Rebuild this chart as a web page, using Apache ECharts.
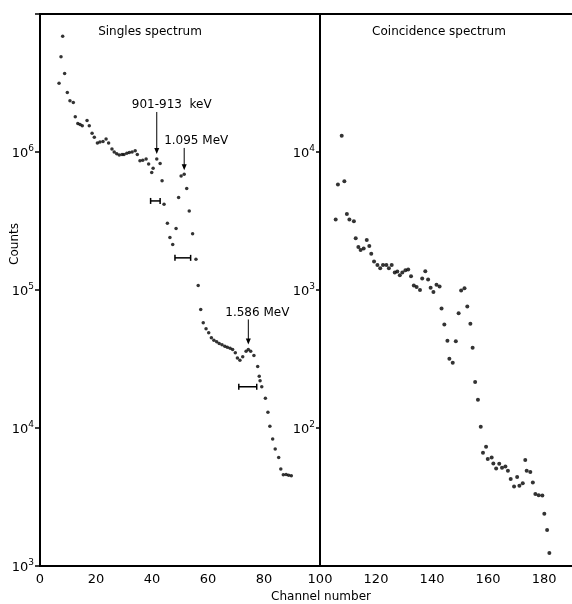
<!DOCTYPE html>
<html>
<head>
<meta charset="utf-8">
<title>Singles and coincidence spectra</title>
<script src="https://cdn.jsdelivr.net/npm/echarts/dist/echarts.min.js"></script>
<style>
    html, body { margin: 0; padding: 0; background: #fff; }
    #chart { width: 572px; height: 604px; }
</style>
</head>
<body>
<div id="chart"></div>
<script>
    // singles spectrum (left panel)
    const singlesChannels = [8.1, 7.5, 8.8, 6.8, 9.75, 10.7, 11.9, 12.6, 13.5, 14.3, 15.1, 16.8, 17.6, 18.6, 19.4,
        20.5, 21.4, 22.5, 23.6, 24.5, 25.7, 26.5, 27.4, 28.3, 29.3, 30.0, 31.0, 31.9, 32.9, 34.0, 34.75,
        35.7, 36.7, 37.9, 38.8, 39.9, 40.4, 41.7, 42.9, 43.6, 44.3, 45.5, 46.4, 47.4, 48.6, 49.5, 50.4,
        51.5, 52.4, 53.3, 54.5, 55.7, 56.5, 57.4, 58.3, 59.3, 60.25, 61.2, 62.1, 63.1, 64.0, 65.0, 66.0,
        66.9, 67.9, 68.8, 69.75, 70.5, 71.4, 72.4, 73.6, 74.4, 75.25, 76.4, 77.75, 78.3, 78.6, 79.2, 80.5,
        81.4, 82.1, 83.1, 84.0, 85.25, 86.0, 86.9, 87.9, 88.8, 89.75];
    const singlesCounts = [6.9e6, 4.9e6, 3.7e6, 3.15e6, 2.7e6, 2.35e6, 2.28e6, 1.8e6, 1.61e6, 1.58e6, 1.55e6, 1.69e6, 1.55e6, 1.37e6, 1.28e6,
        1.16e6, 1.18e6, 1.19e6, 1.24e6, 1.16e6, 1.05e6, 1.0e6, 9.7e5, 9.5e5, 9.6e5, 9.6e5, 9.8e5, 9.9e5, 1.0e6, 1.02e6, 9.6e5,
        8.63e5, 8.73e5, 8.88e5, 8.17e5, 7.11e5, 7.64e5, 8.88e5, 8.26e5, 6.18e5, 4.19e5, 3.05e5, 2.4e5, 2.14e5, 2.79e5, 4.68e5, 6.71e5,
        6.91e5, 5.44e5, 3.74e5, 2.56e5, 1.67e5, 1.08e5, 7.23e4, 5.79e4, 5.24e4, 4.9e4, 4.51e4, 4.33e4, 4.21e4, 4.09e4, 4.01e4, 3.91e4,
        3.85e4, 3.78e4, 3.7e4, 3.51e4, 3.22e4, 3.1e4, 3.28e4, 3.6e4, 3.7e4, 3.6e4, 3.35e4, 2.79e4, 2.37e4, 2.2e4, 1.99e4, 1.64e4,
        1.3e4, 1.03e4, 8320, 7030, 6120, 5040, 4580, 4600, 4550, 4500];

    // horizontal resolution bars: from channel, to channel, counts
    const errLow = [39.5, 48.2, 71.0];
    const errHigh = [42.9, 53.8, 77.4];
    const errCounts = [4.42e5, 1.71e5, 1.99e4];

    // arrows: channel, counts at tail, counts at tip, text
    const peakChannels = [41.7, 51.5, 74.4];
    const peakTail = [1.95e6, 1.07e6, 6.12e4];
    const peakTip = [9.66e5, 7.39e5, 4.03e4];
    const peakLabels = ["901-913  keV", "1.095 MeV", "1.586 MeV"];
    const peakLabelDx = [15, 12, 9];

    // coincidence spectrum (right panel)
    const coincChannels = [105.6, 106.4, 107.75, 108.7, 109.6, 110.5, 112.1, 112.75, 113.7, 114.5, 115.6, 116.7, 117.6, 118.3,
        119.3, 120.5, 121.5, 122.5, 123.7, 124.6, 125.6, 126.7, 127.6, 128.5, 129.4, 130.5, 131.5, 132.5, 133.5, 134.5,
        135.7, 136.5, 137.6, 138.6, 139.5, 140.5, 141.6, 142.7, 143.4, 144.4, 145.5, 146.2, 147.4, 148.5, 149.5, 150.4,
        151.6, 152.6, 153.7, 154.5, 155.4, 156.4, 157.4, 158.2, 159.3, 159.9, 161.3, 161.9, 162.9, 164.0, 165.0, 166.2,
        167.1, 168.1, 169.3, 170.4, 171.2, 172.4, 173.3, 173.8, 175.1, 176.0, 176.9, 178.1, 179.4, 180.1, 181.1, 181.9];
    const coincCounts = [3240, 5820, 13100, 6150, 3560, 3240, 3150, 2370, 2050, 1950, 2000, 2300, 2080, 1830,
        1610, 1520, 1440, 1520, 1520, 1440, 1520, 1340, 1360, 1280, 1340, 1390, 1410, 1260, 1080, 1050,
        1000, 1210, 1370, 1190, 1040, 966, 1090, 1060, 733, 562, 428, 317, 297, 425, 679, 993,
        1030, 760, 569, 381, 215, 160, 102, 66.2, 73.1, 59.6, 61.2, 55.3, 50.9, 55.0, 51.5, 52.6,
        49.0, 42.7, 37.7, 44.1, 38.1, 39.8, 58.6, 49.0, 47.9, 40.3, 33.3, 32.6, 32.4, 23.9, 18.2, 12.4];

    const xTicksLeft = [0, 20, 40, 60, 80];
    const xTicksRight = [100, 120, 140, 160, 180];

    const FONT = "DejaVu Sans";

    const zip = (a, b) => a.map((v, i) => [v, b[i]]);

    // "10" with a raised exponent
    const powLabel = (hide) => (v) => {
        const e = Math.round(Math.log10(v));
        if (hide.indexOf(e) >= 0) return "";
        return "{b|10}{s|" + e + "}";
    };
    const powRich = {
        b: { fontFamily: FONT, fontSize: 13, color: "#000", verticalAlign: "bottom", lineHeight: 16 },
        s: { fontFamily: FONT, fontSize: 9, color: "#000", verticalAlign: "top", lineHeight: 16 }
    };

    const xAxisBase = (grid, min, max, ticks) => ({
        type: "value",
        gridIndex: grid,
        min: min,
        max: max,
        interval: 20,
        axisLine: { show: false },
        axisTick: { show: false },
        splitLine: { show: false },
        axisLabel: {
            margin: 7,
            color: "#000",
            fontFamily: FONT,
            fontSize: 13,
            formatter: (v) => (ticks.indexOf(v) >= 0 ? String(v) : "")
        }
    });

    const chart = echarts.init(document.getElementById("chart"), null, { renderer: "canvas" });

    const option = {
        backgroundColor: "#fff",
        animation: false,
        grid: [
            { left: 40, width: 280, top: 14, bottom: 38, outerBoundsMode: "none", show: true, borderColor: "#000", borderWidth: 2, backgroundColor: "transparent" },
            // right panel runs past the page edge, same 2.8 px per channel as the left one
            { left: 320, width: 254, top: 14, bottom: 38, outerBoundsMode: "none", show: true, borderColor: "#000", borderWidth: 2, backgroundColor: "transparent" }
        ],
        xAxis: [
            xAxisBase(0, 0, 100, xTicksLeft),
            xAxisBase(1, 100, 190.7, xTicksRight)
        ],
        yAxis: [
            {
                type: "log", logBase: 10, gridIndex: 0, min: 1e3, max: 1e7,
                axisLine: { show: false },
                axisTick: { show: true, length: 5, lineStyle: { color: "#000", width: 1.5 } },
                splitLine: { show: false },
                minorTick: { show: false },
                axisLabel: { margin: 6, formatter: powLabel([7]), rich: powRich }
            },
            {
                type: "log", logBase: 10, gridIndex: 1, min: 10, max: 1e5,
                axisLine: { show: false },
                axisTick: { show: true, length: 4, lineStyle: { color: "#000", width: 1.5 } },
                splitLine: { show: false },
                minorTick: { show: false },
                axisLabel: { margin: 5, formatter: powLabel([1, 5]), rich: powRich }
            }
        ],
        graphic: [
            { type: "text", x: 150, y: 32, style: { text: "Singles spectrum", font: "12px " + FONT, fill: "#000", align: "center", verticalAlign: "middle" } },
            { type: "text", x: 439, y: 32, style: { text: "Coincidence spectrum", font: "12px " + FONT, fill: "#000", align: "center", verticalAlign: "middle" } },
            { type: "text", x: 321, y: 597, style: { text: "Channel number", font: "12px " + FONT, fill: "#000", align: "center", verticalAlign: "middle" } },
            { type: "text", x: 15, y: 244, rotation: Math.PI / 2, style: { text: "Counts", font: "12px " + FONT, fill: "#000", align: "center", verticalAlign: "middle" } }
        ],
        series: [
            {
                name: "Singles",
                type: "scatter",
                xAxisIndex: 0, yAxisIndex: 0,
                symbolSize: 3.5,
                itemStyle: { color: "#000" },
                data: zip(singlesChannels, singlesCounts)
            },
            {
                name: "Coincidence",
                type: "scatter",
                xAxisIndex: 1, yAxisIndex: 1,
                symbolSize: 4,
                itemStyle: { color: "#000" },
                data: zip(coincChannels, coincCounts)
            },
            {
                // resolution bars with end caps
                type: "custom",
                xAxisIndex: 0, yAxisIndex: 0,
                encode: { x: [0, 1], y: 2 },
                data: errLow.map((v, i) => [v, errHigh[i], errCounts[i]]),
                renderItem: (params, api) => {
                    const a = api.coord([api.value(0), api.value(2)]);
                    const b = api.coord([api.value(1), api.value(2)]);
                    const st = { stroke: "#000", lineWidth: 1.5 };
                    return {
                        type: "group",
                        children: [
                            { type: "line", shape: { x1: a[0], y1: a[1], x2: b[0], y2: b[1] }, style: st },
                            { type: "line", shape: { x1: a[0], y1: a[1] - 3, x2: a[0], y2: a[1] + 3 }, style: st },
                            { type: "line", shape: { x1: b[0], y1: b[1] - 3, x2: b[0], y2: b[1] + 3 }, style: st }
                        ]
                    };
                }
            },
            {
                // peak arrows and their labels
                type: "custom",
                xAxisIndex: 0, yAxisIndex: 0,
                encode: { x: 0, y: [1, 2] },
                data: peakChannels.map((v, i) => [v, peakTail[i], peakTip[i]]),
                renderItem: (params, api) => {
                    const i = params.dataIndex;
                    const tail = api.coord([api.value(0), api.value(1)]);
                    const tip = api.coord([api.value(0), api.value(2)]);
                    return {
                        type: "group",
                        children: [
                            { type: "line", shape: { x1: tail[0], y1: tail[1], x2: tip[0], y2: tip[1] - 4 }, style: { stroke: "#000", lineWidth: 1 } },
                            { type: "polygon", shape: { points: [[tip[0] - 2.5, tip[1] - 6], [tip[0] + 2.5, tip[1] - 6], [tip[0], tip[1]]] }, style: { fill: "#000" } },
                            {
                                type: "text", x: tail[0] + peakLabelDx[i], y: tail[1] - 1,
                                style: { text: peakLabels[i], font: "12px " + FONT, fill: "#000", align: "center", verticalAlign: "bottom" }
                            }
                        ]
                    };
                }
            }
        ]
    };

    chart.setOption(option);
</script>
</body>
</html>
